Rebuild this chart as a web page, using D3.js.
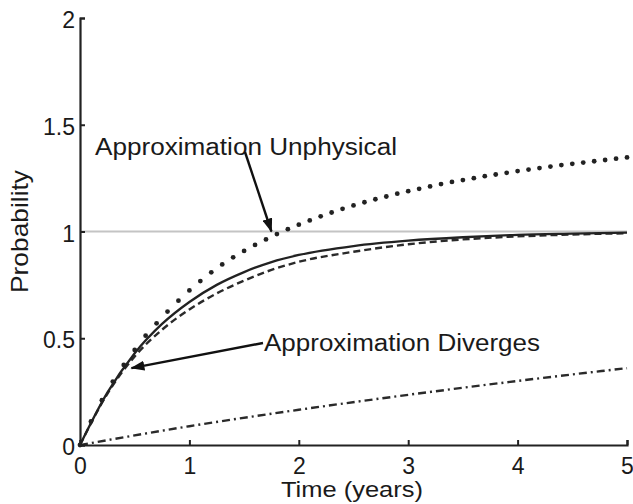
<!DOCTYPE html>
<html>
<head>
<meta charset="utf-8">
<script src="https://cdn.jsdelivr.net/npm/d3@7"></script>
<style>
  html, body { margin: 0; padding: 0; background: #fff; }
  svg { display: block; }
  text { font-family: "Liberation Sans", Arial, Helvetica, sans-serif; fill: #1a1a1a; }
</style>
</head>
<body>
<svg id="chart" width="633" height="504"></svg>
<script>
// ---- data ----
const xTicks = [0, 1, 2, 3, 4, 5];
const xTickLabels = ["0", "1", "2", "3", "4", "5"];
const yTicks = [0, 0.5, 1, 1.5, 2];
const yTickLabels = ["0", "0.5", "1", "1.5", "2"];

// exact solution (solid) and approximation (dashed)
const tCurve = [0, 0.25, 0.5, 0.75, 1, 1.25, 1.5, 1.75, 2, 2.5, 3, 3.5, 4, 4.5, 5];
const solidVals = [0, 0.245, 0.43, 0.567, 0.67, 0.75, 0.81, 0.857, 0.89, 0.932, 0.957, 0.973, 0.984, 0.99, 0.995];
const dashedVals = [0, 0.24, 0.415, 0.54, 0.635, 0.71, 0.77, 0.82, 0.858, 0.905, 0.94, 0.963, 0.977, 0.986, 0.992];

// unphysical approximation (dotted markers every 0.1 yr)
const tDots = [0,0.1,0.2,0.3,0.4,0.5,0.6,0.7,0.8,0.9,1.0,1.1,1.2,1.3,1.4,1.5,1.6,1.7,1.8,1.9,2.0,
  2.1,2.2,2.3,2.4,2.5,2.6,2.7,2.8,2.9,3.0,3.1,3.2,3.3,3.4,3.5,3.6,3.7,3.8,3.9,4.0,
  4.1,4.2,4.3,4.4,4.5,4.6,4.7,4.8,4.9,5.0];
const dotVals = [0,0.11,0.21,0.297,0.375,0.445,0.512,0.57,0.625,0.676,0.724,0.768,0.809,0.846,0.879,0.909,0.937,0.963,0.988,1.011,1.032,
  1.052,1.071,1.089,1.106,1.122,1.137,1.151,1.164,1.177,1.189,1.2,1.211,1.222,1.232,1.241,1.25,1.259,1.267,1.275,1.283,
  1.29,1.297,1.304,1.311,1.317,1.323,1.329,1.335,1.341,1.347];

// dash-dot low-rate curve
const tLow = [0, 1, 2, 3, 4, 5];
const lowVals = [0, 0.088, 0.165, 0.235, 0.3, 0.36];

const refLine = 1;

const annotations = [
  { text: "Approximation Unphysical", tx: 95, ty: 155, len: 302, from: [245, 152], toT: 1.75, toV: 1.0 },
  { text: "Approximation Diverges", tx: 264, ty: 351, len: 276, from: [263, 343], toT: 0.47, toV: 0.36 }
];

// ---- drawing ----
const svg = d3.select("#chart");
const x = d3.scaleLinear().domain([0, 5]).range([80, 627]);
const y = d3.scaleLinear().domain([0, 2]).range([445, 18]);

const ink = "#222";

// reference line at 1
svg.append("line")
  .attr("x1", x(0)).attr("x2", x(5))
  .attr("y1", y(refLine)).attr("y2", y(refLine))
  .attr("stroke", "#c4c4c4").attr("stroke-width", 2);

const line = d3.line().curve(d3.curveMonotoneX);

// dash-dot
svg.append("path")
  .attr("d", line(tLow.map((t, i) => [x(t), y(lowVals[i])])))
  .attr("fill", "none").attr("stroke", "#2a2a2a").attr("stroke-width", 2.4)
  .attr("stroke-dasharray", "8,4,2,4");

// dashed
svg.append("path")
  .attr("d", line(tCurve.map((t, i) => [x(t), y(dashedVals[i])])))
  .attr("fill", "none").attr("stroke", "#2a2a2a").attr("stroke-width", 2.4)
  .attr("stroke-dasharray", "7,4");

// solid
svg.append("path")
  .attr("d", line(tCurve.map((t, i) => [x(t), y(solidVals[i])])))
  .attr("fill", "none").attr("stroke", ink).attr("stroke-width", 2.3);

// dotted markers
svg.append("g").selectAll("circle")
  .data(tDots.map((t, i) => [t, dotVals[i]]))
  .join("circle")
  .attr("cx", d => x(d[0])).attr("cy", d => y(d[1]))
  .attr("r", 2.4).attr("fill", ink);

// axes
const xAxis = d3.axisBottom(x).tickValues(xTicks)
  .tickFormat((d, i) => xTickLabels[i]).tickSize(-5).tickPadding(13);
const yAxis = d3.axisLeft(y).tickValues(yTicks)
  .tickFormat((d, i) => yTickLabels[i]).tickSize(-5).tickPadding(5);

const gx = svg.append("g").attr("transform", `translate(0,${y(0)})`).call(xAxis);
const gy = svg.append("g").attr("transform", `translate(${x(0)},0)`).call(yAxis);

[gx, gy].forEach(g => {
  g.select(".domain").attr("stroke", ink).attr("stroke-width", 2.2);
  g.selectAll(".tick line").attr("stroke", ink).attr("stroke-width", 2);
  g.selectAll(".tick text")
    .attr("font-size", 23)
    .style("font-family", '"Liberation Sans", Arial, sans-serif')
    .attr("fill", "#1a1a1a");
});
gx.selectAll(".tick text").attr("dy", "0.71em");
gy.selectAll(".tick text").attr("dy", "0.42em");

// axis titles
svg.append("text")
  .attr("x", 352).attr("y", 497)
  .attr("text-anchor", "middle")
  .attr("font-size", 22)
  .attr("textLength", 142).attr("lengthAdjust", "spacingAndGlyphs")
  .text("Time (years)");

svg.append("text")
  .attr("transform", "translate(28,231.5) rotate(-90)")
  .attr("text-anchor", "middle")
  .attr("font-size", 24)
  .attr("textLength", 123).attr("lengthAdjust", "spacingAndGlyphs")
  .text("Probability");

// arrow marker
svg.append("defs").append("marker")
  .attr("id", "arrow")
  .attr("viewBox", "0 0 14 10")
  .attr("refX", 13).attr("refY", 5)
  .attr("markerWidth", 14).attr("markerHeight", 10)
  .attr("markerUnits", "userSpaceOnUse")
  .attr("orient", "auto")
  .append("path").attr("d", "M0,0 L14,5 L0,10 Z").attr("fill", "#111");

annotations.forEach(a => {
  svg.append("text")
    .attr("x", a.tx).attr("y", a.ty)
    .attr("font-size", 23)
    .attr("textLength", a.len).attr("lengthAdjust", "spacingAndGlyphs")
    .text(a.text);
  svg.append("line")
    .attr("x1", a.from[0]).attr("y1", a.from[1])
    .attr("x2", x(a.toT)).attr("y2", y(a.toV))
    .attr("stroke", "#111").attr("stroke-width", 2.4)
    .attr("marker-end", "url(#arrow)");
});
</script>
</body>
</html>
